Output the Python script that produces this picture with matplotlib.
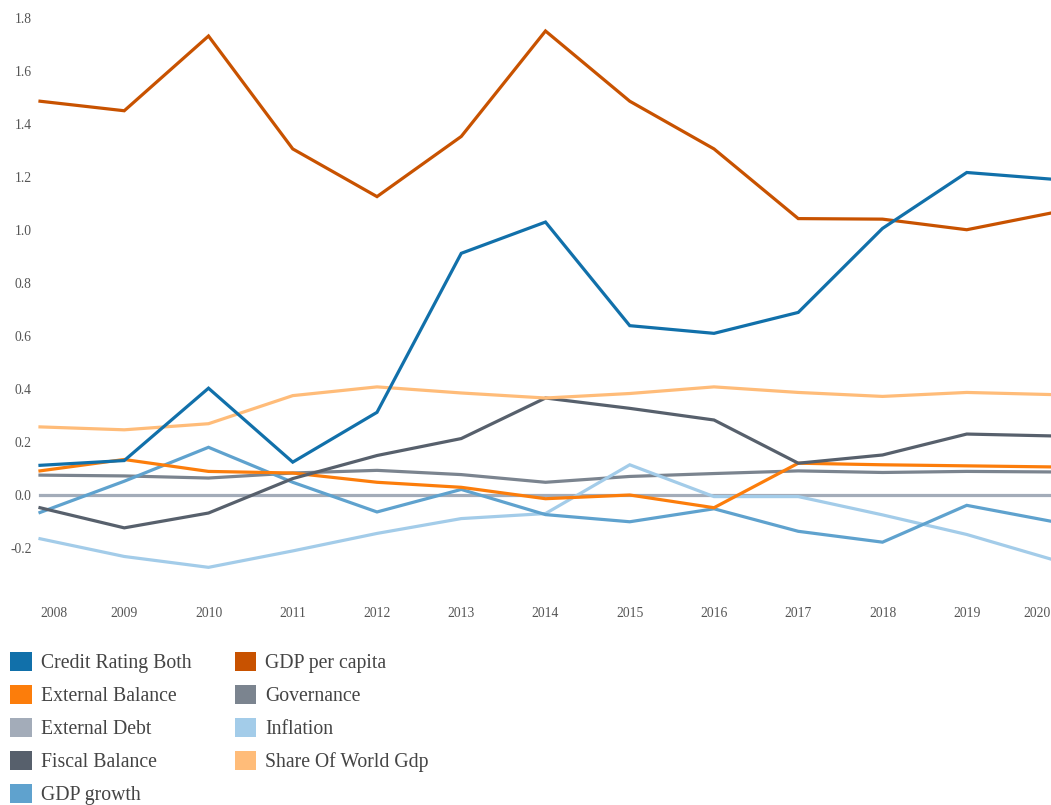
import numpy as np
import matplotlib.pyplot as plt
from matplotlib.patches import Patch

plt.rcParams['font.family'] = ['Liberation Serif', 'DejaVu Serif']

years = list(range(2008, 2021))

credit_rating_both = [0.112, 0.130, 0.403, 0.124, 0.312, 0.912, 1.030, 0.639, 0.610, 0.689, 1.006, 1.217, 1.192]
external_balance = [0.091, 0.134, 0.089, 0.083, 0.048, 0.029, -0.014, 0.000, -0.048, 0.120, 0.114, 0.110, 0.106]
external_debt = [0.0] * 13
fiscal_balance = [-0.048, -0.124, -0.068, 0.062, 0.149, 0.213, 0.366, 0.327, 0.283, 0.120, 0.151, 0.230, 0.223]
gdp_growth = [-0.066, 0.052, 0.180, 0.048, -0.064, 0.021, -0.074, -0.101, -0.052, -0.137, -0.178, -0.039, -0.099]
gdp_per_capita = [1.486, 1.450, 1.732, 1.306, 1.126, 1.353, 1.751, 1.486, 1.306, 1.043, 1.041, 1.001, 1.064]
governance = [0.075, 0.072, 0.064, 0.083, 0.093, 0.077, 0.048, 0.070, 0.081, 0.091, 0.085, 0.089, 0.087]
inflation = [-0.165, -0.232, -0.273, -0.211, -0.145, -0.089, -0.070, 0.114, -0.006, -0.006, -0.075, -0.149, -0.242]
share_of_world_gdp = [0.257, 0.246, 0.269, 0.375, 0.408, 0.385, 0.366, 0.383, 0.408, 0.387, 0.372, 0.387, 0.379]

series = [
    ('Credit Rating Both', credit_rating_both, '#1170aa'),
    ('External Balance', external_balance, '#fc7d0b'),
    ('External Debt', external_debt, '#a3acb9'),
    ('Fiscal Balance', fiscal_balance, '#57606c'),
    ('GDP growth', gdp_growth, '#5fa2ce'),
    ('GDP per capita', gdp_per_capita, '#c85200'),
    ('Governance', governance, '#7b848f'),
    ('Inflation', inflation, '#a3cce9'),
    ('Share Of World Gdp', share_of_world_gdp, '#ffbc79'),
]

fig = plt.figure(figsize=(10.51, 8.05), dpi=100)
ax = fig.add_axes([40 / 1051, 1 - 601 / 805, 1 - 40 / 1051, (601 - 18) / 805])

# zero-ish series first so the flat line sits underneath
draw_order = [2, 6, 7, 4, 1, 3, 8, 5, 0]
for k, i in enumerate(draw_order):
    name, vals, color = series[i]
    ax.plot(years, vals, color=color, linewidth=2.3, solid_joinstyle='miter',
            clip_on=False, zorder=2 + k * 0.01)

ax.set_xlim(2008, 2020)
ax.set_ylim(-0.4, 1.8)
ax.set_yticks(np.arange(-0.2, 1.81, 0.2))
ax.set_yticklabels(['%.1f' % v for v in np.arange(-0.2, 1.81, 0.2)])
ax.set_xticks(years)
ax.set_xticklabels([str(y) for y in years])
ax.tick_params(axis='both', length=0, labelsize=9.8, labelcolor='#555555')
ax.tick_params(axis='y', pad=6)
ax.tick_params(axis='x', pad=4)
xl = ax.get_xticklabels()
xl[0].set_ha('left')
xl[-1].set_ha('right')
for s in ax.spines.values():
    s.set_visible(False)

# legend runs off the bottom edge, last row partly cut
handles = [Patch(facecolor=c, edgecolor='none', label=n) for n, v, c in series]
fig.legend(handles=handles, ncol=2, loc='upper left',
           bbox_to_anchor=(10 / 1051, 1 - 652 / 805),
           frameon=False, fontsize=14.2, borderpad=0, borderaxespad=0,
           handlelength=1.1, handleheight=1.1, handletextpad=0.45,
           labelspacing=0.6, columnspacing=2.2, labelcolor='#444444')

fig.savefig('out.png', dpi=100)
